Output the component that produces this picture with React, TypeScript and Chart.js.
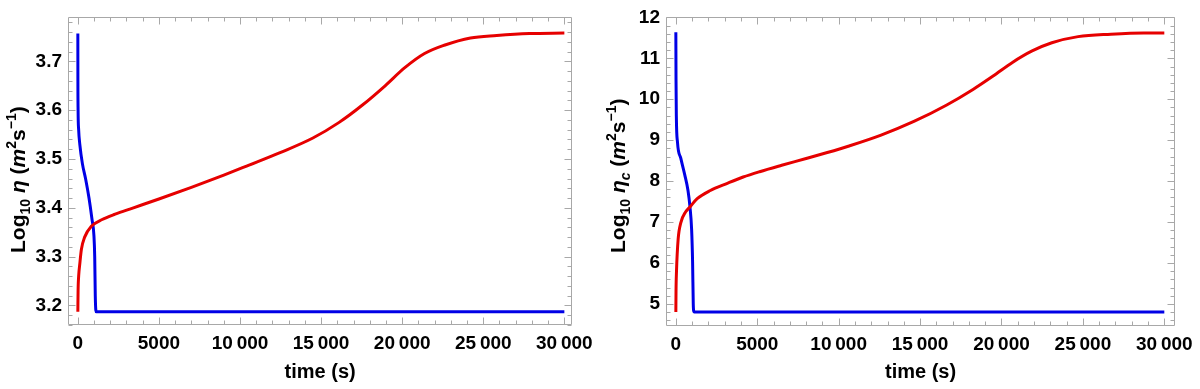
import React, { useEffect, useRef } from "react";
import { Chart, registerables } from "chart.js";

Chart.register(...registerables);

// ---------- data ----------
const timeTicks = [0, 5000, 10000, 15000, 20000, 25000, 30000];
const etaTicks = [3.2, 3.3, 3.4, 3.5, 3.6, 3.7];
const etaCTicks = [5, 6, 7, 8, 9, 10, 11, 12];

// left panel: Log10 eta
const etaRedTime = [0, 15, 50, 120, 220, 420, 830, 1500, 2300, 3340, 5000, 7000, 9000, 10445, 12470, 14494, 16112, 17530, 18947, 20162, 21377, 22591, 24211, 25830, 27854, 30000];
const etaRedValue = [3.187, 3.23, 3.26, 3.285, 3.315, 3.34, 3.362, 3.376, 3.387, 3.399, 3.418, 3.442, 3.467, 3.486, 3.513, 3.543, 3.575, 3.61, 3.65, 3.687, 3.716, 3.733, 3.748, 3.753, 3.757, 3.758];
const etaBlueTime = [0, 4, 15, 50, 121, 283, 486, 688, 870, 992, 1040, 1075, 1110, 1140, 30000];
const etaBlueValue = [3.757, 3.66, 3.6, 3.56, 3.53, 3.49, 3.458, 3.42, 3.377, 3.343, 3.3, 3.22, 3.19, 3.187, 3.187];

// right panel: Log10 eta_c
const etaCRedTime = [0, 10, 40, 141, 302, 605, 867, 1311, 2118, 3126, 4135, 5143, 6500, 8000, 9300, 10588, 12604, 14620, 16637, 18250, 19461, 20671, 21881, 23092, 24704, 26721, 28738, 30000];
const etaCRedValue = [4.8, 5.3, 5.8, 6.58, 6.98, 7.25, 7.37, 7.57, 7.77, 7.94, 8.1, 8.23, 8.386, 8.551, 8.698, 8.853, 9.125, 9.458, 9.861, 10.24, 10.561, 10.9, 11.18, 11.38, 11.53, 11.59, 11.62, 11.62];
const etaCBlueTime = [0, 10, 30, 100, 302, 544, 746, 867, 968, 1028, 1069, 1100, 1130, 30000];
const etaCBlueValue = [11.64, 10.5, 9.6, 8.95, 8.56, 8.16, 7.77, 7.37, 6.82, 6.03, 5.0, 4.82, 4.8, 4.8];

const xTitle = "time (s)";

type Seg = { text: string; small?: boolean; italic?: boolean; shift?: number };
const etaTitle: Seg[] = [
  { text: "Log" },
  { text: "10", small: true, shift: 5 },
  { text: "\u00a0" },
  { text: "η", italic: true },
  { text: "\u00a0(" },
  { text: "m", italic: true },
  { text: "2", small: true, shift: -9 },
  { text: "s" },
  { text: "−1", small: true, shift: -9 },
  { text: ")" },
];
const etaCTitle: Seg[] = [
  { text: "Log" },
  { text: "10", small: true, shift: 5 },
  { text: "\u00a0" },
  { text: "η", italic: true },
  { text: "c", italic: true, small: true, shift: 5 },
  { text: "\u00a0(" },
  { text: "m", italic: true },
  { text: "2", small: true, shift: -9 },
  { text: "s" },
  { text: "−1", small: true, shift: -9 },
  { text: ")" },
];

// ---------- styles ----------
const RED = "#e60000";
const BLUE = "#0000e6";
const FRAME = "#a8a8a8";
const FONT = "'Liberation Sans', Arial, sans-serif";

Chart.defaults.font.family = FONT;

function pairs(xs: number[], ys: number[]) {
  return xs.map((x, i) => ({ x, y: ys[i] }));
}

function subdivide(major: number[], parts: number, min: number, max: number): number[] {
  const d = major[1] - major[0];
  const step = d / parts;
  const out: number[] = [];
  for (let i = -parts; i <= major.length * parts; i++) {
    const v = major[0] + i * step;
    if (v >= min - 1e-9 && v <= max + 1e-9 && i % parts !== 0) out.push(v);
  }
  return out;
}

function fmtTime(v: number) {
  if (v >= 10000) {
    const k = Math.floor(v / 1000);
    const r = String(Math.round(v % 1000)).padStart(3, "0");
    return `${k}\u2009${r}`;
  }
  return String(v);
}

const framePlugin = {
  id: "frameTicks",
  afterDatasetsDraw(chart: any, _a: any, opts: any) {
    const { ctx, chartArea: a, scales } = chart;
    const xs = scales.x;
    const ys = scales.y;
    const L = Math.round(a.left) + 0.5;
    const R = Math.round(a.right) - 0.5;
    const T = Math.round(a.top) + 0.5;
    const B = Math.round(a.bottom) - 0.5;
    ctx.save();
    ctx.strokeStyle = FRAME;
    ctx.lineWidth = 1;
    ctx.beginPath();
    ctx.rect(L, T, R - L, B - T);
    const xTick = (v: number, len: number) => {
      const p = Math.round(xs.getPixelForValue(v)) + 0.5;
      ctx.moveTo(p, B);
      ctx.lineTo(p, B - len);
      ctx.moveTo(p, T);
      ctx.lineTo(p, T + len);
    };
    const yTick = (v: number, len: number) => {
      const p = Math.round(ys.getPixelForValue(v)) + 0.5;
      ctx.moveTo(L, p);
      ctx.lineTo(L + len, p);
      ctx.moveTo(R, p);
      ctx.lineTo(R - len, p);
    };
    opts.xMajor.forEach((v: number) => xTick(v, 7));
    opts.xMinor.forEach((v: number) => xTick(v, 4));
    opts.yMajor.forEach((v: number) => yTick(v, 7));
    opts.yMinor.forEach((v: number) => yTick(v, 4));
    ctx.stroke();
    ctx.restore();
  },
};

type Panel = {
  red: { x: number; y: number }[];
  blue: { x: number; y: number }[];
  xMin: number;
  xMax: number;
  yMin: number;
  yMax: number;
  yTicks: number[];
  yFmt: (v: number) => string;
  padTop: number;
  padRight: number;
  yWidth: number;
  xHeight: number;
  title: Seg[];
};

function makeConfig(p: Panel): any {
  return {
    type: "line",
    data: {
      datasets: [
        {
          data: p.red,
          borderColor: RED,
          borderWidth: 3,
          pointRadius: 0,
          fill: false,
          cubicInterpolationMode: "monotone",
        },
        {
          data: p.blue,
          borderColor: BLUE,
          borderWidth: 3,
          pointRadius: 0,
          fill: false,
          cubicInterpolationMode: "monotone",
        },
      ],
    },
    options: {
      responsive: false,
      animation: false,
      events: [],
      layout: { padding: { top: p.padTop, right: p.padRight, left: 0, bottom: 0 } },
      plugins: {
        legend: { display: false },
        tooltip: { enabled: false },
        frameTicks: {
          xMajor: timeTicks,
          xMinor: subdivide(timeTicks, 5, p.xMin, p.xMax),
          yMajor: p.yTicks,
          yMinor: subdivide(p.yTicks, 5, p.yMin, p.yMax),
        },
      },
      scales: {
        x: {
          type: "linear",
          min: p.xMin,
          max: p.xMax,
          grid: { display: false, drawTicks: false, tickLength: 0 },
          border: { display: false },
          afterBuildTicks: (s: any) => {
            s.ticks = timeTicks.map((v) => ({ value: v }));
          },
          afterFit: (s: any) => {
            s.height = p.xHeight;
          },
          ticks: {
            autoSkip: false,
            maxRotation: 0,
            minRotation: 0,
            padding: 7,
            color: "#000",
            font: { size: 19, weight: "bold" },
            callback: (v: any) => fmtTime(Number(v)),
          },
          title: {
            display: true,
            text: xTitle,
            color: "#000",
            font: { size: 20, weight: "bold" },
            padding: { top: 0, bottom: 5 },
          },
        },
        y: {
          type: "linear",
          min: p.yMin,
          max: p.yMax,
          grid: { display: false, drawTicks: false, tickLength: 0 },
          border: { display: false },
          afterBuildTicks: (s: any) => {
            s.ticks = p.yTicks.map((v) => ({ value: v }));
          },
          afterFit: (s: any) => {
            s.width = p.yWidth;
          },
          ticks: {
            autoSkip: false,
            padding: 6,
            color: "#000",
            font: { size: 19, weight: "bold" },
            callback: (v: any) => p.yFmt(Number(v)),
          },
        },
      },
    },
    plugins: [framePlugin],
  };
}

const leftPanel: Panel = {
  red: pairs(etaRedTime, etaRedValue),
  blue: pairs(etaBlueTime, etaBlueValue),
  xMin: -607,
  xMax: 30486,
  yMin: 3.16,
  yMax: 3.79,
  yTicks: etaTicks,
  yFmt: (v) => v.toFixed(1),
  padTop: 10,
  padRight: 20,
  yWidth: 68,
  xHeight: 64,
  title: etaTitle,
};

const rightPanel: Panel = {
  red: pairs(etaCRedTime, etaCRedValue),
  blue: pairs(etaCBlueTime, etaCBlueValue),
  xMin: -605,
  xMax: 30665,
  yMin: 4.46,
  yMax: 12.0,
  yTicks: etaCTicks,
  yFmt: (v) => String(Math.round(v)),
  padTop: 8,
  padRight: 17,
  yWidth: 66,
  xHeight: 63,
  title: etaCTitle,
};

const TITLE_BIG = 21;
const TITLE_SMALL = 14;

function YTitle({ segs }: { segs: Seg[] }) {
  return (
    <div
      style={{
        position: "absolute",
        left: 7,
        top: 253,
        transformOrigin: "0 0",
        transform: "rotate(-90deg)",
        whiteSpace: "nowrap",
        fontFamily: FONT,
        fontWeight: "bold",
        fontSize: TITLE_BIG,
        lineHeight: 1,
        color: "#000",
      }}
    >
      {segs.map((s, i) => (
        <span
          key={i}
          style={{
            fontSize: s.small ? TITLE_SMALL : TITLE_BIG,
            fontStyle: s.italic ? "italic" : "normal",
            position: "relative",
            top: s.shift || 0,
          }}
        >
          {s.text}
        </span>
      ))}
    </div>
  );
}

function PanelChart({ panel, left }: { panel: Panel; left: number }) {
  const ref = useRef<HTMLCanvasElement | null>(null);
  useEffect(() => {
    if (!ref.current) return;
    const chart = new Chart(ref.current, makeConfig(panel));
    return () => chart.destroy();
  }, [panel]);
  return (
    <div style={{ position: "absolute", left, top: 0, width: 600, height: 389 }}>
      <canvas ref={ref} width={600} height={389} style={{ display: "block", width: 600, height: 389 }} />
      <YTitle segs={panel.title} />
    </div>
  );
}

export default function App() {
  return (
    <div
      style={{
        position: "fixed",
        left: 0,
        top: 0,
        width: 1200,
        height: 389,
        background: "#fff",
        overflow: "hidden",
      }}
    >
      <PanelChart panel={leftPanel} left={0} />
      <PanelChart panel={rightPanel} left={600} />
    </div>
  );
}
